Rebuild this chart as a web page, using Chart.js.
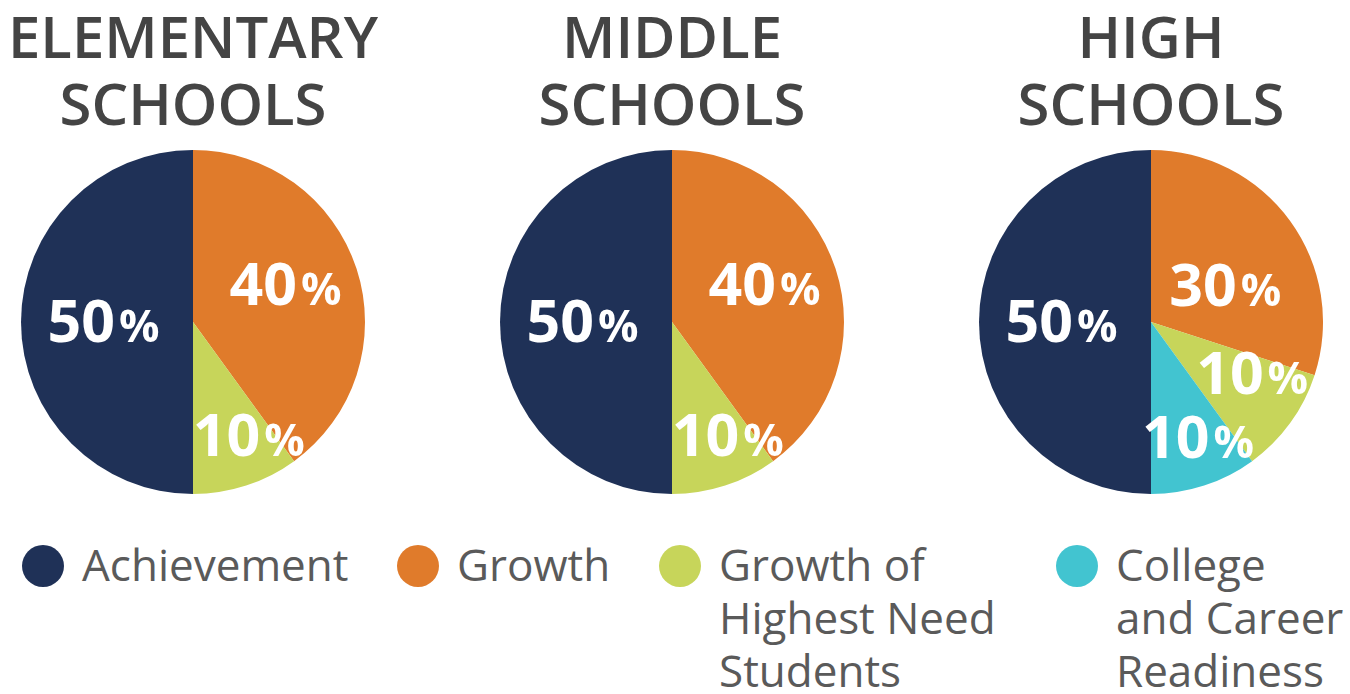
<!DOCTYPE html>
<html>
<head>
<meta charset="utf-8">
<script src="https://cdn.jsdelivr.net/npm/chart.js@4"></script>
<style>
  body { margin: 0; background: #fff; width: 1350px; height: 694px; overflow: hidden; position: relative; font-family: "Open Sans", sans-serif; }
  .title { position: absolute; top: 2px; width: 440px; text-align: center; font-weight: 600; font-size: 58px; line-height: 67px; color: #444; }
  .pie { position: absolute; top: 150px; width: 344px; height: 344px; }
  .leg { position: absolute; top: 538px; display: flex; color: #5a5a5a; font-size: 44px; line-height: 53px; }
  .leg .dot { width: 42px; height: 42px; border-radius: 50%; margin-top: 7px; margin-right: 18px; flex: none; }
</style>
</head>
<body>
<script>
const schools = ['ELEMENTARY\nSCHOOLS', 'MIDDLE\nSCHOOLS', 'HIGH\nSCHOOLS'];
const categories = ['Achievement', 'Growth', 'Growth of Highest Need Students', 'College and Career Readiness'];
const legendLines = ['Achievement', 'Growth', 'Growth of\nHighest Need\nStudents', 'College\nand Career\nReadiness'];
const elementary = [50, 40, 10, 0];
const middle = [50, 40, 10, 0];
const high = [50, 30, 10, 10];
const colors = ['#1f3157', '#e07b2b', '#c7d55a', '#42c4d0'];

const seriesList = [elementary, middle, high];
const centersX = [193, 672, 1151];
const legendX = [22, 397, 659, 1056];

// label placement: radius factor and angle nudge (deg) per slice index, per chart
const labelRad = [[0.52, 0.58, 0.74], [0.52, 0.58, 0.74], [0.52, 0.48, 0.66, 0.73]];
const labelNudge = [[0, -4, -8], [0, -4, -8], [0, 10, -9, -4]];

const pctLabels = {
  id: 'pctLabels',
  afterDatasetsDraw(chart, args, opts) {
    const ctx = chart.ctx;
    const meta = chart.getDatasetMeta(0);
    const data = chart.data.datasets[0].data;
    meta.data.forEach((arc, i) => {
      if (!data[i]) return;
      const p = arc.getProps(['x', 'y', 'startAngle', 'endAngle', 'outerRadius'], true);
      const a = (p.startAngle + p.endAngle) / 2 + (opts.nudge[i] || 0) * Math.PI / 180;
      const r = p.outerRadius * opts.rad[i];
      const cx = p.x + Math.cos(a) * r;
      const cy = p.y + Math.sin(a) * r;
      const num = String(data[i]);
      ctx.save();
      ctx.fillStyle = '#fff';
      ctx.textBaseline = 'alphabetic';
      ctx.font = 'bold 59px "Open Sans"';
      const w1 = ctx.measureText(num).width;
      ctx.font = 'bold 45px "Open Sans"';
      const w2 = ctx.measureText('%').width;
      const gap = 4;
      const x0 = cx - (w1 + w2 + gap) / 2;
      const base = cy + 20;
      ctx.font = 'bold 59px "Open Sans"';
      ctx.fillText(num, x0, base);
      ctx.font = 'bold 45px "Open Sans"';
      ctx.fillText('%', x0 + w1 + gap, base);
      ctx.restore();
    });
  }
};

schools.forEach((name, k) => {
  const t = document.createElement('div');
  t.className = 'title';
  t.style.left = (centersX[k] - 220) + 'px';
  t.innerHTML = name.replace('\n', '<br>');
  document.body.appendChild(t);

  const box = document.createElement('div');
  box.className = 'pie';
  box.style.left = (centersX[k] - 172) + 'px';
  const cv = document.createElement('canvas');
  box.appendChild(cv);
  document.body.appendChild(box);

  new Chart(cv, {
    type: 'pie',
    data: {
      labels: categories,
      datasets: [{ data: seriesList[k], backgroundColor: colors, borderWidth: 0 }]
    },
    options: {
      responsive: true,
      maintainAspectRatio: false,
      animation: false,
      rotation: 180,
      layout: { padding: 0 },
      plugins: {
        legend: { display: false },
        tooltip: { enabled: false },
        pctLabels: { rad: labelRad[k], nudge: labelNudge[k] }
      }
    },
    plugins: [pctLabels]
  });
});

legendLines.forEach((txt, i) => {
  const item = document.createElement('div');
  item.className = 'leg';
  item.style.left = legendX[i] + 'px';
  const dot = document.createElement('div');
  dot.className = 'dot';
  dot.style.background = colors[i];
  const lab = document.createElement('div');
  lab.innerHTML = txt.split('\n').join('<br>');
  item.appendChild(dot);
  item.appendChild(lab);
  document.body.appendChild(item);
});
</script>
</body>
</html>
